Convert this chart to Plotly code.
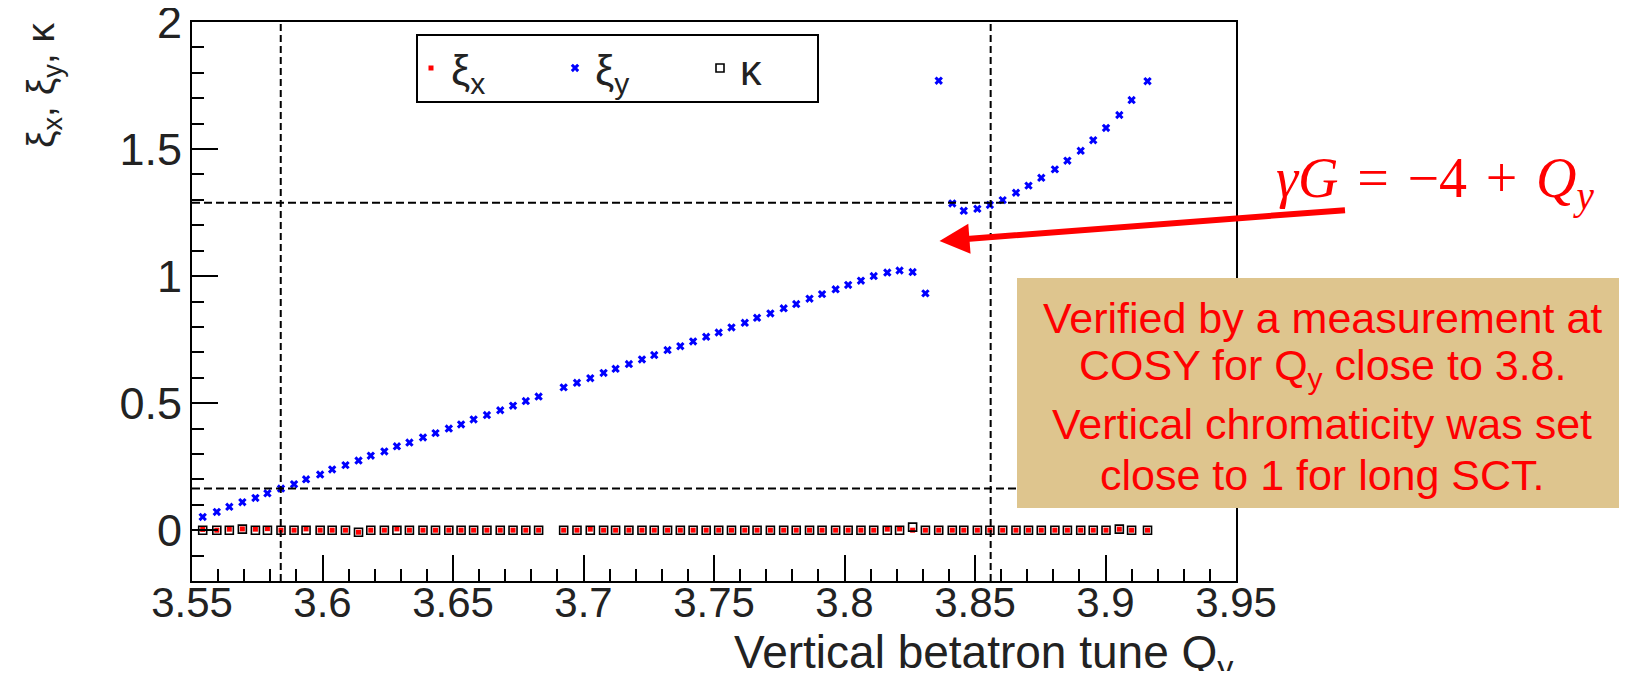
import plotly.graph_objects as go

# ---------------- data ----------------
qy = [3.5541, 3.5595, 3.5643, 3.5693, 3.5743, 3.5789, 3.5841, 3.5891, 3.5937, 3.5991,
      3.6037, 3.6088, 3.6138, 3.6185, 3.6237, 3.6285, 3.6333, 3.6385, 3.6433, 3.6484,
      3.6531, 3.6579, 3.6630, 3.6681, 3.6730, 3.6779, 3.6828, 3.6924, 3.6975, 3.7026,
      3.7077, 3.7123, 3.7174, 3.7224, 3.7271, 3.7322, 3.7371, 3.7420, 3.7470, 3.7518,
      3.7567, 3.7618, 3.7665, 3.7716, 3.7767, 3.7815, 3.7866, 3.7914, 3.7966, 3.8014,
      3.8063, 3.8112, 3.8164, 3.8211, 3.8261, 3.8310, 3.8361, 3.8413, 3.8457, 3.8509,
      3.8557, 3.8606, 3.8657, 3.8705, 3.8754, 3.8806, 3.8854, 3.8905, 3.8953, 3.9002,
      3.9053, 3.9100, 3.9161]

xi_y = [0.052, 0.072, 0.092, 0.110, 0.127, 0.145, 0.164, 0.181, 0.200, 0.219,
        0.239, 0.256, 0.274, 0.293, 0.310, 0.330, 0.345, 0.365, 0.382, 0.400,
        0.416, 0.436, 0.453, 0.472, 0.490, 0.508, 0.526, 0.562, 0.580, 0.598,
        0.619, 0.635, 0.654, 0.672, 0.689, 0.709, 0.724, 0.743, 0.761, 0.778,
        0.798, 0.816, 0.836, 0.853, 0.873, 0.890, 0.911, 0.929, 0.948, 0.965,
        0.982, 1.000, 1.014, 1.022, 1.016, 0.932, 1.769, 1.286, 1.257, 1.265,
        1.280, 1.299, 1.328, 1.356, 1.387, 1.420, 1.454, 1.493, 1.535, 1.583,
        1.634, 1.693, 1.767]

xi_x = [0.003, 0.0, 0.004, 0.005, 0.004, 0.006, 0.0, 0.0, 0.005, 0.0,
        0.0, 0.0, -0.008, 0.0, 0.0, 0.005, 0.0, 0.0, 0.0, 0.0,
        0.0, 0.0, 0.0, 0.0, 0.0, 0.0, 0.0, 0.0, 0.0, 0.004,
        0.0, 0.0, 0.0, 0.0, 0.0, 0.0, 0.0, 0.0, 0.0, 0.0,
        0.0, 0.0, 0.0, 0.0, 0.0, 0.0, 0.0, 0.0, 0.0, 0.0,
        0.0, 0.0, 0.004, 0.005, 0.0, 0.0, 0.0, 0.0, 0.0, 0.0,
        0.0, 0.0, 0.0, 0.0, 0.0, 0.0, 0.0, 0.0, 0.0, 0.0,
        0.004, 0.0, 0.0]

kappa = [0.0, 0.0, 0.0, 0.004, 0.0, 0.0, 0.0, 0.0, 0.0, 0.0,
         0.0, 0.0, -0.008, 0.0, 0.0, 0.0, 0.0, 0.0, 0.0, 0.0,
         0.0, 0.0, 0.0, 0.0, 0.0, 0.0, 0.0, 0.0, 0.0, 0.0,
         0.0, 0.0, 0.0, 0.0, 0.0, 0.0, 0.0, 0.0, 0.0, 0.0,
         0.0, 0.0, 0.0, 0.0, 0.0, 0.0, 0.0, 0.0, 0.0, 0.0,
         0.0, 0.0, 0.0, 0.0, 0.012, 0.0, 0.0, 0.0, 0.0, 0.0,
         0.0, 0.0, 0.0, 0.0, 0.0, 0.0, 0.0, 0.0, 0.0, 0.0,
         0.004, 0.0, 0.0]

hlines = [0.164, 1.289]
vlines = [3.584, 3.856]
x_range = [3.55, 3.95]
y_range = [-0.2, 2.0]

box_lines = ["Verified by a measurement at",
             "COSY for Q<sub>y</sub> close to 3.8.",
             "Vertical chromaticity was set",
             "close to 1 for long SCT."]

# ---------------- layout geometry ----------------
# the page body has an 8 px default margin; the figure is sized so that it fits the window
OFF = 8
W, H = 1627 - 2 * OFF, 679 - 2 * OFF
L, R, T, B = 192 - OFF, W - (1236 - OFF), 22 - OFF, H - (581 - OFF)
PW = W - L - R
PH = H - T - B


def px(xp):  # page x pixel -> paper x
    return (xp - OFF - L) / PW


def py(yp):  # page y pixel -> paper y
    return (H - B - (yp - OFF)) / PH


SANS = "Arial, Liberation Sans, Helvetica, sans-serif"
TXT = "#222222"

fig = go.Figure()
fig.add_trace(go.Scatter(x=qy, y=xi_x, mode="markers", name="ξ<sub>x</sub>", legend="legend",
                         marker=dict(symbol="square", size=5, color="red", line=dict(width=0))))
fig.add_trace(go.Scatter(x=qy, y=xi_y, mode="markers", name="ξ<sub>y</sub>", legend="legend2",
                         marker=dict(symbol="x", size=7.5, color="blue", line=dict(width=0))))
fig.add_trace(go.Scatter(x=qy, y=kappa, mode="markers", name="κ", legend="legend3",
                         marker=dict(symbol="square-open", size=8, color="black",
                                     line=dict(width=1.6, color="black"))))

shapes = []
for v in vlines:
    shapes.append(dict(type="line", xref="x", yref="y", x0=v, x1=v, y0=y_range[0], y1=y_range[1],
                       line=dict(color="black", width=2, dash="7px,4px")))
for h in hlines:
    shapes.append(dict(type="line", xref="x", yref="y", x0=x_range[0], x1=x_range[1], y0=h, y1=h,
                       line=dict(color="black", width=2, dash="8px,4px")))
# legend frame
shapes.append(dict(type="rect", xref="paper", yref="paper", x0=px(417), x1=px(818),
                   y0=py(102), y1=py(35), fillcolor="white", line=dict(width=2, color="black"),
                   layer="above"))
# note box
shapes.append(dict(type="rect", xref="paper", yref="paper", x0=px(1017), x1=px(1640),
                   y0=py(508), y1=py(278), fillcolor="#DEC58E", line=dict(width=0), layer="above"))

annotations = []
# y axis title
annotations.append(dict(text="ξ<sub>x</sub>, ξ<sub>y</sub>, κ", textangle=-90, xref="paper", yref="paper",
                        x=px(44), y=py(20), xanchor="center", yanchor="top", showarrow=False,
                        font=dict(family=SANS, size=39, color=TXT)))
# x axis title
annotations.append(dict(text="Vertical betatron tune Q<sub>y</sub>", xref="paper", yref="paper",
                        x=px(1236), y=py(655), xanchor="right", yanchor="middle", showarrow=False,
                        font=dict(family=SANS, size=46, color=TXT)))
# equation
HS = "\u200a"
annotations.append(dict(text=f"<i>γG</i> {HS}={HS} −4 {HS}+{HS} <i>Q</i><sub><i>y</i></sub>",
                        xref="paper", yref="paper",
                        x=px(1274), y=py(182), xanchor="left", yanchor="middle", showarrow=False,
                        font=dict(family="Liberation Serif, DejaVu Serif, serif", size=56, color="red")))
# arrow
annotations.append(dict(text="", xref="x", yref="y", x=3.8364, y=1.138, ax=407, ay=-31,
                        showarrow=True, arrowcolor="red", arrowwidth=6, arrowhead=2, arrowsize=1.0))
# box text
line_y = [318, 368, 424, 475]
for t, yy in zip(box_lines, line_y):
    annotations.append(dict(text=t, xref="paper", yref="paper", x=px(1322), y=py(yy),
                            xanchor="center", yanchor="middle", showarrow=False,
                            font=dict(family=SANS, size=43, color="red")))

axis_common = dict(showgrid=False, zeroline=False, showline=True, linecolor="black", linewidth=2,
                   mirror=True, ticks="inside", ticklen=26, tickwidth=2, tickcolor="black",
                   automargin=False, ticklabeloverflow="allow")

leg_common = dict(orientation="h", xanchor="left", yanchor="middle", borderwidth=0,
                  bgcolor="rgba(0,0,0,0)", font=dict(family=SANS, size=43, color=TXT))

fig.update_layout(
    width=W, height=H,
    margin=dict(l=L, r=R, t=T, b=B, pad=0, autoexpand=False),
    paper_bgcolor="white", plot_bgcolor="white",
    xaxis=dict(range=x_range, tick0=3.55, dtick=0.05, ticklabelstandoff=-16,
               tickfont=dict(family=SANS, size=42, color=TXT),
               minor=dict(dtick=0.01, ticks="inside", ticklen=12, tickwidth=2, tickcolor="black", showgrid=False),
               **axis_common),
    yaxis=dict(range=y_range, tick0=0, dtick=0.5, ticklabelstandoff=-1,
               tickfont=dict(family=SANS, size=45, color=TXT),
               minor=dict(dtick=0.1, ticks="inside", ticklen=12, tickwidth=2, tickcolor="black", showgrid=False),
               **axis_common),
    showlegend=True,
    legend=dict(x=px(411), y=py(68), **leg_common),
    legend2=dict(x=px(555), y=py(68), **leg_common),
    legend3=dict(x=px(700), y=py(68), **leg_common),
    shapes=shapes,
    annotations=annotations,
)

fig.write_html("out.html")
